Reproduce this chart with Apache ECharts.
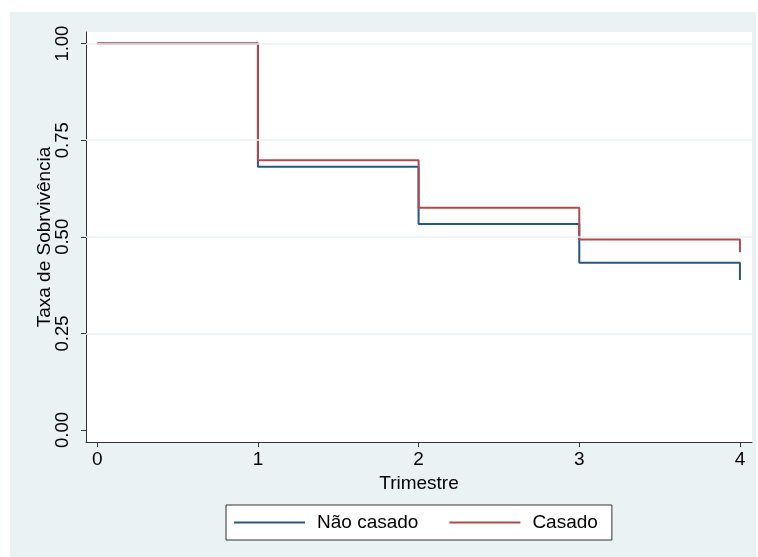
<!DOCTYPE html>
<html>
<head>
<meta charset="utf-8">
<script src="https://cdn.jsdelivr.net/npm/echarts@6/dist/echarts.min.js"></script>
<style>
html,body{margin:0;padding:0;background:#fff;}
#chart{width:758px;height:557px;}
</style>
</head>
<body>
<div id="chart"></div>
<script>
var times = [0, 1, 2, 3, 4];
var naoCasado = [1.0, 0.681, 0.533, 0.433, 0.388];
var casado = [1.0, 0.698, 0.575, 0.493, 0.460];
var xTicks = [0, 1, 2, 3, 4];
var yTicks = [0, 0.25, 0.5, 0.75, 1.0];
var yGrid = [0.25, 0.5, 0.75, 1.0];
var seriesNames = ['Não casado', 'Casado'];

function pairs(xs, ys) { return xs.map(function (x, i) { return [x, ys[i]]; }); }

var chart = echarts.init(document.getElementById('chart'), null, {renderer: 'canvas'});
var font = 'Liberation Sans, Arial, Helvetica, sans-serif';
chart.setOption({
  animation: false,
  backgroundColor: '#ffffff',
  graphic: [{
    type: 'rect', z: -10, silent: true,
    shape: {x: 10, y: 12, width: 746, height: 545},
    style: {fill: '#eaf2f3'}
  }],
  grid: {left: 86, top: 32, right: 6, bottom: 115, show: true, backgroundColor: '#ffffff', borderWidth: 0},
  legend: {
    left: 226, top: 505,
    data: seriesNames,
    icon: 'rect', itemWidth: 71, itemHeight: 2, itemGap: 31,
    padding: [8, 14, 8, 8],
    borderColor: '#333333', borderWidth: 1, backgroundColor: '#ffffff',
    textStyle: {fontFamily: font, fontSize: 19, color: '#000', padding: [0, 0, 0, 7]}
  },
  xAxis: {
    type: 'value', min: -0.07, max: 4.075,
    name: 'Trimestre', nameLocation: 'middle', nameGap: 32, nameMoveOverlap: false,
    nameTextStyle: {fontFamily: font, fontSize: 19, color: '#000'},
    axisLine: {show: true, onZero: false, lineStyle: {color: '#333', width: 1}},
    axisTick: {show: true, length: 5, customValues: xTicks, lineStyle: {color: '#333'}},
    axisLabel: {customValues: xTicks, margin: 8, fontFamily: font, fontSize: 19, color: '#000'},
    splitLine: {show: false}
  },
  yAxis: {
    type: 'value', min: -0.031, max: 1.03,
    name: 'Taxa de Sobrvivência', nameLocation: 'middle', nameGap: 32, nameRotate: 90, nameMoveOverlap: false,
    nameTextStyle: {fontFamily: font, fontSize: 19, color: '#000'},
    axisLine: {show: true, onZero: false, lineStyle: {color: '#333', width: 1}},
    axisTick: {show: true, length: 5, customValues: yTicks, lineStyle: {color: '#333'}},
    axisLabel: {customValues: yTicks, rotate: 90, margin: 14, fontFamily: font, fontSize: 18.5, color: '#000',
      formatter: function (v) { return v.toFixed(2); }},
    splitLine: {show: false}
  },
  series: [
    {
      name: seriesNames[0], type: 'line', step: 'end', showSymbol: false, symbol: 'none',
      data: pairs(times, naoCasado),
      lineStyle: {color: '#2b5583', width: 2}, itemStyle: {color: '#2b5583'},
      markLine: {
        silent: true, symbol: 'none', label: {show: false}, animation: false,
        lineStyle: {color: '#eaf2f3', width: 1.5, type: 'solid'},
        data: yGrid.map(function (v) { return {yAxis: v}; })
      },
      z: 3
    },
    {
      name: seriesNames[1], type: 'line', step: 'end', showSymbol: false, symbol: 'none',
      data: pairs(times, casado),
      lineStyle: {color: '#b04a52', width: 2}, itemStyle: {color: '#b04a52'},
      z: 4
    }
  ]
});
</script>
</body>
</html>
